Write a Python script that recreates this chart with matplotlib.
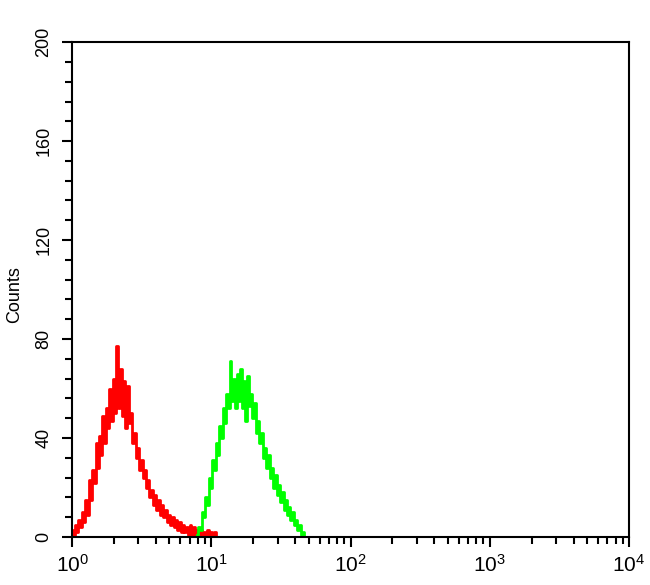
import matplotlib
matplotlib.use("Agg")
import matplotlib.pyplot as plt
from matplotlib.ticker import FixedLocator, MultipleLocator, LogLocator, NullFormatter
import numpy as np

plt.rcParams['font.family'] = ['Liberation Sans', 'DejaVu Sans']
plt.rcParams['mathtext.default'] = 'regular'

# histogram channels: 80 per decade, channel c -> 10**(c/80)
channels_per_decade = 80

red_start = 0
red_counts = [
    3, 1, 5, 2, 7, 4, 10, 6, 15, 9,
    23, 15, 27, 22, 38, 28, 41, 33, 49, 38,
    52, 44, 60, 47, 64, 50, 77, 52, 68, 49,
    63, 44, 61, 46, 50, 38, 42, 32, 36, 27,
    31, 24, 27, 20, 23, 16, 19, 13, 17, 11,
    15, 9, 13, 8, 11, 6, 9, 5, 8, 4,
    7, 3, 6, 2, 5, 2, 4, 1, 5, 1,
    4, 1, 3, 0, 3, 1, 2, 0, 3, 0,
    2, 0, 2, 0,
]

green_start = 72
green_counts = [
    1, 4, 3, 10, 8, 16, 13, 24, 20, 31,
    27, 38, 33, 45, 40, 52, 46, 58, 52, 71,
    55, 64, 52, 66, 55, 68, 52, 63, 47, 65,
    53, 58, 48, 54, 42, 47, 38, 42, 32, 36,
    28, 33, 24, 28, 20, 25, 17, 21, 14, 18,
    11, 15, 9, 12, 7, 10, 5, 7, 3, 5,
    1, 2, 0,
]

y_ticks = [0, 40, 80, 120, 160, 200]
x_ticks = [1, 10, 100, 1000, 10000]
x_labels = ['$10^{0}$', '$10^{1}$', '$10^{2}$', '$10^{3}$', '$10^{4}$']


def chan_to_x(start, n):
    ch = np.arange(start, start + n)
    return 10 ** (ch / channels_per_decade)


fig = plt.figure(figsize=(6.5, 5.85), dpi=100)
ax = fig.add_axes([0.1108, 0.082, 0.857, 0.846])

ax.plot(chan_to_x(red_start, len(red_counts)), red_counts,
        color='#ff0000', lw=2.0, drawstyle='steps-mid')
ax.plot(chan_to_x(green_start, len(green_counts)), green_counts,
        color='#00ff00', lw=2.0, drawstyle='steps-mid')

ax.set_xscale('log')
ax.set_xlim(1, 10000)
ax.set_ylim(0, 200)

ax.xaxis.set_major_locator(FixedLocator(x_ticks))
ax.set_xticklabels(x_labels, fontsize=15)
ax.xaxis.set_minor_locator(LogLocator(base=10, subs=np.arange(2, 10)))
ax.xaxis.set_minor_formatter(NullFormatter())

ax.yaxis.set_major_locator(FixedLocator(y_ticks))
ax.set_yticklabels([str(v) for v in y_ticks], rotation=90, va='center', fontsize=13)
ax.yaxis.set_minor_locator(MultipleLocator(8))

ax.tick_params(which='major', direction='out', length=7, width=1.5, color='black')
ax.tick_params(which='minor', direction='out', length=5, width=1.5, color='black')
ax.tick_params(axis='x', which='major', pad=5)
ax.tick_params(axis='y', which='major', pad=7)

for s in ax.spines.values():
    s.set_linewidth(1.5)
    s.set_color('black')

ax.set_ylabel('Counts', fontsize=13)
ax.yaxis.set_label_coords(-0.088, 0.49)

fig.savefig('out.png', dpi=100)
